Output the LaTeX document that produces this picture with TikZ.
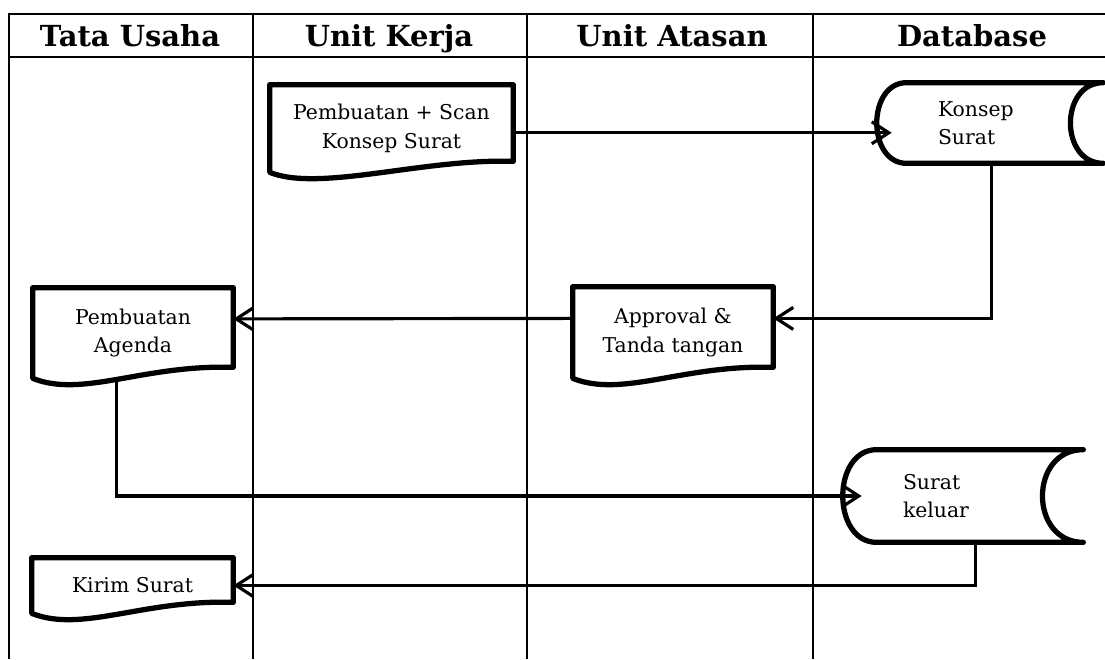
\documentclass[tikz,border=0pt]{standalone}
\usepackage{fontspec}
\setmainfont{DejaVu Serif}
\usetikzlibrary{arrows.meta,calc}

\newcommand{\docline}[1]{%
	\draw[boxline] (#1.south west) -- (#1.north west) -- (#1.north east) -- ($(#1.south east)+(0,-11)$)
		.. controls ($(#1.south east)+(-90,-14)$) and ($(#1.south west)+(50,20)$) .. (#1.south west) -- cycle;}
\newcommand{\storeline}[3]{%
	\draw[boxline] (#1.north east) -- (#1.north west)
		.. controls ($(#1.north west)+(-1.33*#2,0)$) and ($(#1.south west)+(-1.33*#2,0)$) .. (#1.south west)
		-- (#1.south east)
		.. controls ($(#1.south east)+(-1.33*#3,0)$) and ($(#1.north east)+(-1.33*#3,0)$) .. (#1.north east);}

\begin{document}
\begin{tikzpicture}[x=0.02cm, y=-0.02cm]
	\tikzstyle{laneline} = [line width=1.1pt]
	\tikzstyle{boxline} = [line width=3pt, line join=round, line cap=round]
	\tikzstyle{arrowline} = [line width=1.8pt, -{Straight Barb[length=0.34cm, width=0.44cm]}]
	\tikzstyle{lanehead} = [anchor=base, font=\bfseries\fontsize{16.5}{19}\selectfont]
	\tikzstyle{docbox} = [align=center, inner sep=0pt, font=\fontsize{11.6}{16.2}\selectfont]
	\tikzstyle{storebox} = [align=left, inner ysep=0pt, font=\fontsize{11.6}{16.2}\selectfont]
	\useasboundingbox (0,0) rectangle (1105,659);
	\draw[laneline] (9,659) -- (9,14) -- (1105,14);
	\draw[laneline] (9,57) -- (1105,57);
	\draw[laneline] (253,14) -- (253,659);
	\draw[laneline] (527,14) -- (527,659);
	\draw[laneline] (813,14) -- (813,659);
	\node[lanehead] (tu) at (130,46) {Tata Usaha};
	\node[lanehead] (uk) at (389,46) {Unit Kerja};
	\node[lanehead] (ua) at (672,46) {Unit Atasan};
	\node[lanehead] (db) at (972,46) {Database};
	\node[docbox, minimum width=4.86cm, minimum height=1.74cm] (scan) at (391.5,128.5) {Pembuatan + Scan\\Konsep Surat};
	\node[docbox, minimum width=4cm, minimum height=1.82cm] (approval) at (673,332.5) {Approval \&\\Tanda tangan};
	\node[docbox, minimum width=4cm, minimum height=1.8cm] (agenda) at (133,333) {Pembuatan\\Agenda};
	\node[docbox, minimum width=4.02cm, minimum height=1.1cm] (kirim) at (132.5,585.5) {Kirim Surat};
	\node[storebox, text width=2.68cm, inner xsep=0.62cm, minimum height=1.6cm] (konsep) at (1005,123) {Konsep\\Surat};
	\node[storebox, text width=3.08cm, inner xsep=0.52cm, minimum height=1.84cm] (keluar) at (980,496) {Surat\\keluar};
	\docline{scan}
	\docline{approval}
	\docline{agenda}
	\docline{kirim}
	\storeline{konsep}{30}{33}
	\storeline{keluar}{34}{41}
	\draw[arrowline, shorten >=0.3cm] (scan.-2) -- (scan.-2 -| konsep.west);
	\draw[arrowline] (konsep.252) |- (approval.8);
	\draw[arrowline] (approval.172) -- (agenda.8);
	\draw[arrowline, shorten >=0.3cm] (agenda.250) |- (keluar.west);
	\draw[arrowline] (keluar.264) |- (kirim.east);
\end{tikzpicture}
\end{document}
